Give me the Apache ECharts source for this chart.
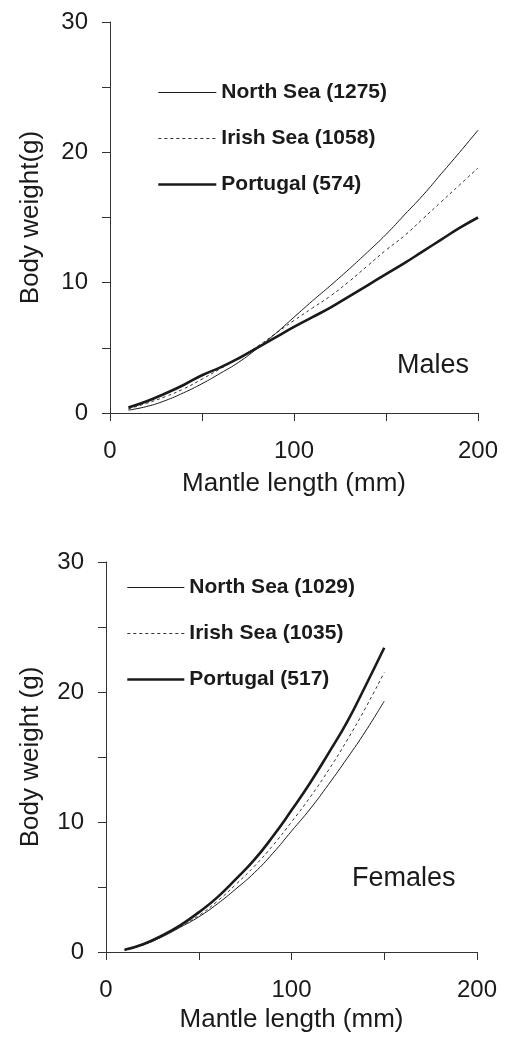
<!DOCTYPE html>
<html>
<head>
<meta charset="utf-8">
<script src="https://cdn.jsdelivr.net/npm/echarts@6/dist/echarts.min.js"></script>
<style>
html, body { margin: 0; padding: 0; background: #fff; }
#chart { width: 508px; height: 1048px; }
</style>
</head>
<body>
<div id="chart"></div>
<script>
// mantle length (mm)
var maleLength = [10, 20, 30, 40, 50, 60, 70, 80, 90, 100, 110, 120, 130, 140, 150, 160, 170, 180, 190, 200];
var femaleLength = [10, 20, 30, 40, 50, 60, 70, 80, 90, 100, 110, 120, 130, 140, 150];

// body weight (g), males
var maleNorth = [0.22, 0.5, 0.95, 1.55, 2.25, 3.05, 3.9, 4.95, 6.1, 7.35, 8.6, 9.8, 11.05, 12.35, 13.7, 15.2, 16.7, 18.35, 20.0, 21.7];
var maleIrish = [0.32, 0.75, 1.25, 1.85, 2.6, 3.4, 4.2, 5.1, 6.1, 7.1, 8.05, 9.0, 10.1, 11.3, 12.5, 13.6, 14.9, 16.2, 17.5, 18.8];
var malePortugal = [0.42, 0.9, 1.5, 2.15, 2.9, 3.5, 4.2, 5.0, 5.8, 6.6, 7.35, 8.1, 8.95, 9.8, 10.65, 11.5, 12.4, 13.3, 14.2, 15.0];

// body weight (g), females
var femaleNorth = [0.15, 0.55, 1.15, 1.9, 2.7, 3.7, 4.85, 6.1, 7.6, 9.3, 11.0, 12.9, 14.9, 17.0, 19.3];
var femaleIrish = [0.15, 0.55, 1.2, 1.95, 2.8, 3.9, 5.2, 6.6, 8.2, 10.0, 11.9, 14.0, 16.3, 18.8, 21.5];
var femalePortugal = [0.17, 0.6, 1.25, 2.05, 3.05, 4.2, 5.6, 7.1, 8.9, 10.9, 13.0, 15.3, 17.7, 20.5, 23.4];

var maleNames = ['North Sea (1275)', 'Irish Sea (1058)', 'Portugal (574)'];
var femaleNames = ['North Sea (1029)', 'Irish Sea (1035)', 'Portugal (517)'];

var font = 'Liberation Sans, Arial, sans-serif';
var ink = '#1a1a1a';

var styles = {
    thin: { color: ink, width: 1, type: 'solid' },
    dash: { color: '#333', width: 1, type: [3, 3] },
    thick: { color: ink, width: 2.6, type: 'solid' }
};
var kinds = ['thin', 'dash', 'thick'];

function pairs(xs, ys) {
    return xs.map(function(x, i) { return [x, ys[i]]; });
}

function xAxisFor(idx, gap) {
    return {
        type: 'value',
        gridIndex: idx,
        min: 0, max: 200, interval: 50,
        name: 'Mantle length (mm)',
        nameLocation: 'middle',
        nameGap: gap,
        nameTextStyle: { fontFamily: font, fontSize: 26, color: ink },
        axisLine: { lineStyle: { color: '#333', width: 1 } },
        axisTick: { length: 8, lineStyle: { color: '#333' } },
        axisLabel: {
            fontFamily: font, fontSize: 24, color: ink, margin: 26,
            formatter: function(v) { return v % 100 === 0 ? v : ''; }
        },
        splitLine: { show: false }
    };
}

function yAxisFor(idx, title, gap) {
    return {
        type: 'value',
        gridIndex: idx,
        min: 0, max: 30, interval: 5,
        name: title,
        nameLocation: 'middle',
        nameGap: gap,
        nameTextStyle: { fontFamily: font, fontSize: 26, color: ink },
        axisLine: { show: true, lineStyle: { color: '#333', width: 1 } },
        axisTick: { show: true, length: 8, lineStyle: { color: '#333' } },
        axisLabel: {
            fontFamily: font, fontSize: 24, color: ink, margin: 22,
            formatter: function(v) { return v % 10 === 0 ? v : ''; }
        },
        splitLine: { show: false }
    };
}

function lineSeries(name, idx, xs, ys, kind) {
    return {
        name: name,
        type: 'line',
        xAxisIndex: idx,
        yAxisIndex: idx,
        smooth: true,
        symbol: 'none',
        itemStyle: { color: ink },
        lineStyle: styles[kind],
        data: pairs(xs, ys)
    };
}

function legendFor(names, left, top, width) {
    return {
        data: names.map(function(n, i) {
            var s = styles[kinds[i]];
            return {
                name: n,
                itemStyle: { opacity: 0 },
                lineStyle: { color: s.color, width: s.width, type: s.type }
            };
        }),
        orient: 'vertical',
        left: left,
        top: top,
        itemWidth: width,
        itemHeight: 14,
        itemGap: 25,
        selectedMode: false,
        padding: 0,
        textStyle: { fontFamily: font, fontSize: 21, fontWeight: 'bold', color: ink, lineHeight: 20 }
    };
}

var myChart = echarts.init(document.getElementById('chart'));

var option = {
    backgroundColor: '#fff',
    animation: false,
    title: [
        { text: 'Males', left: 397, top: 352, padding: 0,
          textStyle: { fontFamily: font, fontSize: 27, fontWeight: 'normal', color: ink } },
        { text: 'Females', left: 352, top: 865, padding: 0,
          textStyle: { fontFamily: font, fontSize: 27, fontWeight: 'normal', color: ink } }
    ],
    grid: [
        { left: 110, right: 30, top: 22, height: 391 },
        { left: 106, right: 31, top: 562, height: 390 }
    ],
    legend: [
        legendFor(maleNames, 157, 82, 58),
        legendFor(femaleNames, 126, 577, 57)
    ],
    xAxis: [xAxisFor(0, 58), xAxisFor(1, 55)],
    yAxis: [yAxisFor(0, 'Body weight(g)', 66), yAxisFor(1, 'Body weight (g)', 62)],
    series: [
        lineSeries(maleNames[0], 0, maleLength, maleNorth, 'thin'),
        lineSeries(maleNames[1], 0, maleLength, maleIrish, 'dash'),
        lineSeries(maleNames[2], 0, maleLength, malePortugal, 'thick'),
        lineSeries(femaleNames[0], 1, femaleLength, femaleNorth, 'thin'),
        lineSeries(femaleNames[1], 1, femaleLength, femaleIrish, 'dash'),
        lineSeries(femaleNames[2], 1, femaleLength, femalePortugal, 'thick')
    ]
};

myChart.setOption(option);
</script>
</body>
</html>
